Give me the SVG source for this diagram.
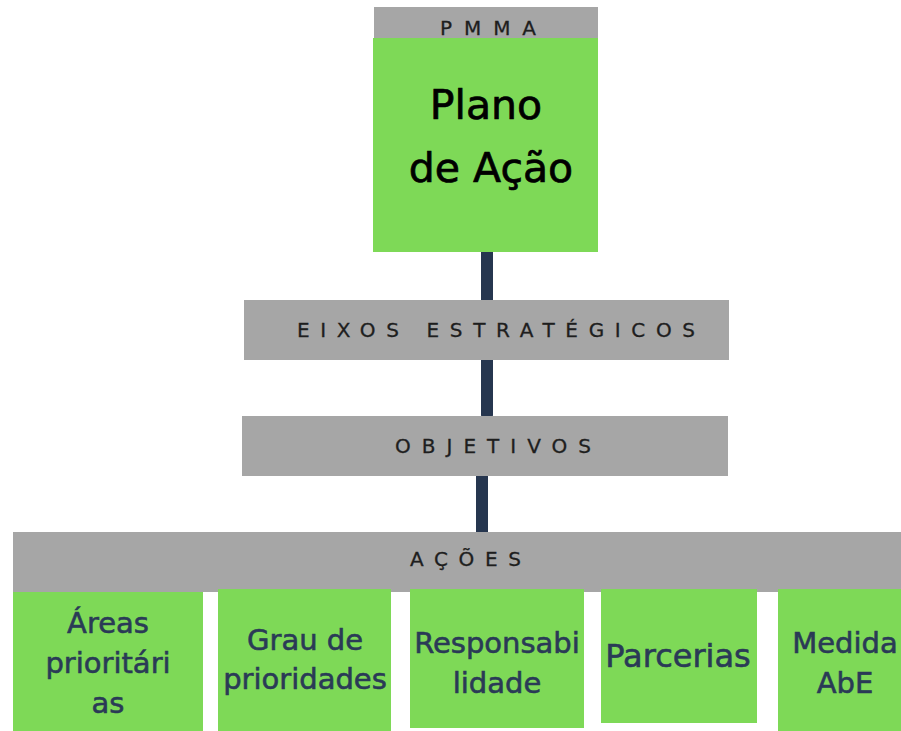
<svg xmlns="http://www.w3.org/2000/svg" width="901" height="731" viewBox="0 0 901 731">
<style>
.bar{fill:#a6a6a6}
.grn{fill:#7ed957}
.cap{font-family:"DejaVu Sans","Liberation Sans",sans-serif;font-size:20px;fill:#1e1e1e;stroke:#1e1e1e;stroke-width:0.3}
.big{font-family:"DejaVu Sans","Liberation Sans",sans-serif;font-size:41px;fill:#000;stroke:#000;stroke-width:0.7;text-anchor:middle}
.item{font-family:"DejaVu Sans","Liberation Sans",sans-serif;font-size:29px;fill:#2a3a56;stroke:#2a3a56;stroke-width:0.6;text-anchor:middle}
.conn{stroke:#26364f;stroke-width:12;stroke-linecap:round;fill:none}
</style>
<rect width="901" height="731" fill="#fff"/>
<g id="connectors">
<line class="conn" x1="487" y1="252" x2="487" y2="300"/>
<line class="conn" x1="487" y1="360" x2="487" y2="415"/>
<line class="conn" x1="482" y1="476" x2="482" y2="532"/>
</g>
<g id="plano">
<rect class="bar" x="374" y="7" width="224" height="31"/>
<rect class="grn" x="373" y="38" width="225" height="214"/>
<text class="cap" x="440" y="35" textLength="96" lengthAdjust="spacing">PMMA</text>
<text class="big" x="486" y="119">Plano</text>
<text class="big" x="491" y="182">de Ação</text>
</g>
<g id="eixos">
<rect class="bar" x="244" y="300" width="485" height="60"/>
<text class="cap" x="297" y="337" textLength="398" lengthAdjust="spacing">EIXOS ESTRATÉGICOS</text>
</g>
<g id="objetivos">
<rect class="bar" x="242" y="416" width="486" height="60"/>
<text class="cap" x="395" y="453" textLength="196" lengthAdjust="spacing">OBJETIVOS</text>
</g>
<g id="acoes">
<rect class="bar" x="13" y="532" width="888" height="60"/>
<text class="cap" x="410" y="566" textLength="111" lengthAdjust="spacing">AÇÕES</text>
</g>
<g id="areas">
<rect class="grn" x="13" y="592" width="190" height="139"/>
<text class="item" x="108" y="633">Áreas</text>
<text class="item" x="108" y="673">prioritári</text>
<text class="item" x="108" y="713">as</text>
</g>
<g id="grau">
<rect class="grn" x="218" y="589" width="173" height="142"/>
<text class="item" x="305" y="650">Grau de</text>
<text class="item" x="305" y="689">prioridades</text>
</g>
<g id="responsabilidade">
<rect class="grn" x="410" y="589" width="174" height="139"/>
<text class="item" x="497" y="653">Responsabi</text>
<text class="item" x="497" y="693">lidade</text>
</g>
<g id="parcerias">
<rect class="grn" x="601" y="589" width="156" height="134"/>
<text class="item" x="678" y="667" style="font-size:32px">Parcerias</text>
</g>
<g id="medida">
<rect class="grn" x="778" y="589" width="123" height="142"/>
<text class="item" x="845" y="653">Medida</text>
<text class="item" x="845" y="693">AbE</text>
</g>
</svg>
